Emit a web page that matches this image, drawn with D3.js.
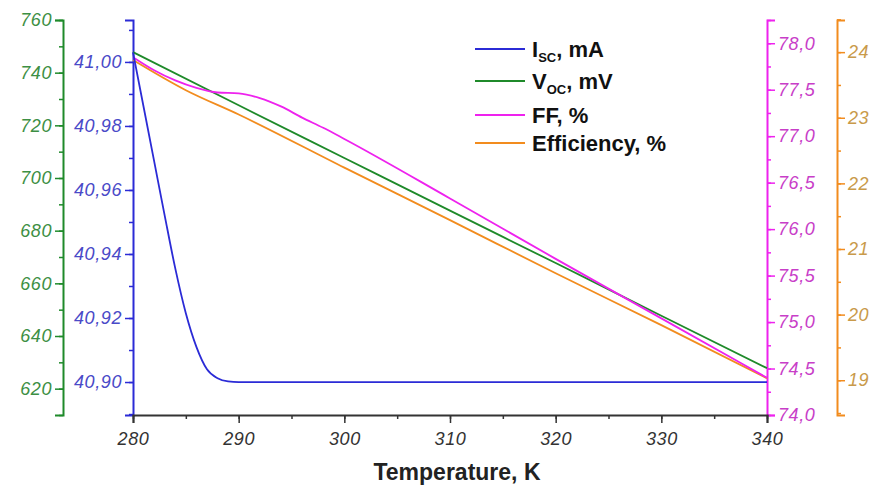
<!DOCTYPE html>
<html>
<head>
<meta charset="utf-8">
<script src="https://cdn.jsdelivr.net/npm/d3@7"></script>
<style>
  body { margin: 0; background: #fff; }
  svg { display: block; font-family: "Liberation Sans", Arial, sans-serif; }
  .tick text { font-style: italic; font-size: 18px; letter-spacing: 0.6px; }
</style>
</head>
<body>
<div id="chart"></div>
<script>
// temperature axis
const tempTicks = [280, 290, 300, 310, 320, 330, 340];

// Isc, mA
const iscT = [280, 281, 282, 283, 284, 285, 286, 287, 288, 289, 290, 300, 310, 320, 330, 340];
const iscV = [41.003, 40.986, 40.969, 40.952, 40.9355, 40.9215, 40.911, 40.904, 40.9012, 40.9002, 40.900, 40.900, 40.900, 40.900, 40.900, 40.900];

// Voc, mV
const vocT = [280, 290, 300, 310, 320, 330, 340];
const vocV = [747.8, 727.6, 707.6, 687.6, 667.7, 647.7, 627.8];

// FF, %
const ffT = [280, 282, 284, 286, 288, 290, 292, 294, 296, 298, 300, 310, 320, 330, 340];
const ffV = [77.85, 77.71, 77.60, 77.52, 77.47, 77.46, 77.41, 77.32, 77.20, 77.09, 76.97, 76.33, 75.68, 75.04, 74.40];

// Efficiency, %
const effT = [280, 285, 290, 300, 310, 320, 330, 340];
const effV = [23.88, 23.42, 23.05, 22.24, 21.44, 20.63, 19.84, 19.03];

// tick labels
const vocTicks = [620, 640, 660, 680, 700, 720, 740, 760];
const iscTicks = [40.90, 40.92, 40.94, 40.96, 40.98, 41.00];
const ffTicks = [74.0, 74.5, 75.0, 75.5, 76.0, 76.5, 77.0, 77.5, 78.0];
const effTicks = [19, 20, 21, 22, 23, 24];

const legendNames = [["I", "SC", ", mA"], ["V", "OC", ", mV"], ["FF, %", "", ""], ["Efficiency, %", "", ""]];

const colors = { isc: "#2b2bd6", voc: "#1f8a2a", ff: "#ee22ee", eff: "#f28c1e", x: "#333333" };
const labelColors = { isc: "#4a4ac8", voc: "#3d8f44", ff: "#c83ec8", eff: "#c99a4a", x: "#333333" };

const W = 880, H = 488;
const plotL = 133, plotR = 767, plotT = 20, plotB = 415;

const svg = d3.select("#chart").append("svg").attr("width", W).attr("height", H);

const x = d3.scaleLinear([280, 340], [plotL, plotR]);
const yVoc = d3.scaleLinear([610, 760], [plotB, plotT]);
const yIsc = d3.scaleLinear([40.8897, 41.0131], [plotB, plotT]);
const yFF = d3.scaleLinear([74.0, 78.25], [plotB, plotT]);
const yEff = d3.scaleLinear([18.47, 24.49], [plotB, plotT]);

const comma = f => v => d3.format(f)(v).replace(".", ",");

function range(a, b, s) { return d3.range(a, b + s / 2, s); }

function drawAxis(gen, pos, color, labelColor, major, minor, fmt) {
  // minor ticks
  const mg = svg.append("g").attr("transform", pos);
  mg.call(gen.tickValues(minor).tickSize(4).tickFormat(""));
  const g = svg.append("g").attr("transform", pos);
  g.call(gen.tickValues(major).tickSize(8).tickFormat(fmt).tickPadding(3));
  [g, mg].forEach(a => {
    a.select(".domain").attr("stroke", color).attr("stroke-width", 2);
    a.selectAll(".tick line").attr("stroke", color).attr("stroke-width", 1.5);
    a.selectAll(".tick text").attr("fill", labelColor);
  });
  mg.select(".domain").remove();
  return g;
}

// left axes
drawAxis(d3.axisLeft(yVoc).tickSizeOuter(0), "translate(63,0)", colors.voc, labelColors.voc,
  vocTicks, range(610, 760, 10), d3.format("d"));
drawAxis(d3.axisLeft(yIsc).tickSizeOuter(0), `translate(${plotL},0)`, colors.isc, labelColors.isc,
  iscTicks, range(40.89, 41.01, 0.01), comma(".2f"));
// right axes
drawAxis(d3.axisRight(yFF).tickSizeOuter(0), `translate(${plotR},0)`, colors.ff, labelColors.ff,
  ffTicks, range(74.0, 78.25, 0.25), comma(".1f"));
drawAxis(d3.axisRight(yEff).tickSizeOuter(0), "translate(837,0)", colors.eff, labelColors.eff,
  effTicks, range(18.5, 24.5, 0.5), d3.format("d"));
// bottom axis
const gx = drawAxis(d3.axisBottom(x).tickSizeOuter(0), `translate(0,${plotB})`, colors.x, labelColors.x,
  tempTicks, range(280, 340, 5), d3.format("d"));
gx.selectAll(".tick text").attr("dy", "1.05em");

svg.append("text")
  .attr("x", 457).attr("y", 480)
  .attr("text-anchor", "middle")
  .attr("font-weight", "bold").attr("font-size", 23).attr("fill", "#222")
  .text("Temperature, K");

// series
const line = (ys) => d3.line().x(d => x(d[0])).y(d => ys(d[1])).curve(d3.curveMonotoneX);
const series = [
  { key: "voc", t: vocT, v: vocV, y: yVoc },
  { key: "eff", t: effT, v: effV, y: yEff },
  { key: "ff", t: ffT, v: ffV, y: yFF },
  { key: "isc", t: iscT, v: iscV, y: yIsc }
];
svg.selectAll("path.series").data(series).join("path")
  .attr("class", "series")
  .attr("fill", "none")
  .attr("stroke", d => colors[d.key])
  .attr("stroke-width", 1.8)
  .attr("d", d => line(d.y)(d3.zip(d.t, d.v)));

// legend
const legKeys = ["isc", "voc", "ff", "eff"];
const legY = [49, 81, 115, 143];
const leg = svg.append("g");
legKeys.forEach((k, i) => {
  leg.append("line").attr("x1", 475).attr("x2", 525).attr("y1", legY[i]).attr("y2", legY[i])
    .attr("stroke", colors[k]).attr("stroke-width", 1.8);
  const t = leg.append("text").attr("x", 532).attr("y", legY[i] + 8)
    .attr("font-weight", "bold").attr("font-size", 22).attr("fill", "#111");
  const [a, sub, b] = legendNames[i];
  t.append("tspan").text(a);
  if (sub) {
    t.append("tspan").attr("font-size", 13).attr("dy", 5).text(sub);
    t.append("tspan").attr("dy", -5).text(b);
  }
});
</script>
</body>
</html>
